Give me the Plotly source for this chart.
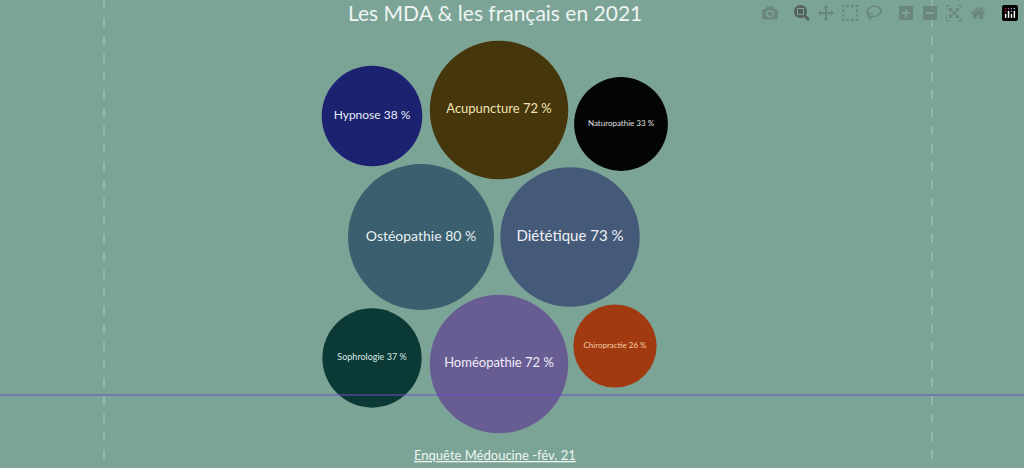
import plotly.graph_objects as go
import numpy as np

names = ["Hypnose", "Acupuncture", "Naturopathie", "Ostéopathie", "Diététique",
         "Sophrologie", "Homéopathie", "Chiropractie"]
values = [38, 72, 33, 80, 73, 37, 72, 26]
colors = ["#1b2270", "#46360c", "#030404", "#3b5f6e", "#455a78",
          "#0b3a36", "#685d93", "#a13a10"]
text_colors = ["#e8ecf5", "#f0e2b4", "#e0e0e0", "#e8f0f2", "#eef0f5",
               "#d8e8e4", "#f0ecf8", "#f5cfa8"]
font_sizes = [12, 13, 8, 14, 15, 9, 13, 8]
# layout positions (pixels) of the packed bubbles
cx = [372, 499, 621, 421, 570, 372, 499, 615]
cy = [116, 110, 124, 237, 237, 358, 364, 346]

diam = [2 * 8.16 * np.sqrt(v) for v in values]
labels = [f"{n} {v} %" for n, v in zip(names, values)]

fig = go.Figure()
fig.add_trace(go.Scatter(
    x=cx, y=cy, mode="markers+text", text=labels,
    textposition="middle center",
    textfont=dict(family="Lato", size=font_sizes, color=text_colors),
    marker=dict(size=diam, sizemode="diameter", color=colors, opacity=1,
                line=dict(width=0)),
    hoverinfo="text", showlegend=False))

fig.add_shape(type="line", x0=0, x1=1024, y0=395, y1=395,
              line=dict(color="#6a4fc0", width=1), layer="above")
for xv in [104, 932]:
    fig.add_shape(type="line", x0=xv, x1=xv, y0=0, y1=468,
                  line=dict(color="rgba(230,240,236,0.5)", width=1, dash="dash"),
                  layer="below")

fig.add_annotation(x=495, y=12, text="Les MDA &amp; les français en 2021",
                   showarrow=False, font=dict(family="Lato", size=21, color="#eef5f2"))
fig.add_annotation(x=495, y=455, text="<u>Enquête Médoucine -fév. 21</u>",
                   showarrow=False, font=dict(family="Lato", size=13, color="#eef5f2"))

fig.update_xaxes(range=[0, 1024], visible=False)
fig.update_yaxes(range=[468, 0], visible=False)
fig.update_layout(width=1024, height=468, margin=dict(l=0, r=0, t=0, b=0),
                  paper_bgcolor="#7ba396", plot_bgcolor="#7ba396")
fig.write_html("out.html")

with open("out.html", encoding="utf-8") as f:
    html = f.read()
html = html.replace("<head>", "<head><style>html,body{margin:0;padding:0;background:#7ba396;overflow:hidden}</style>", 1)
with open("out.html", "w", encoding="utf-8") as f:
    f.write(html)
